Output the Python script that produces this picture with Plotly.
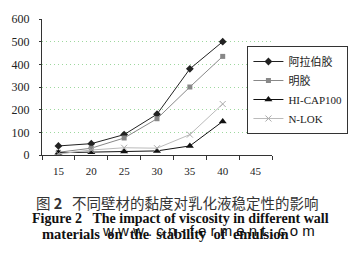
import plotly.graph_objects as go

categories = ["15", "20", "25", "30", "35", "40", "45"]
x_data = ["15", "20", "25", "30", "35", "40"]
arabic_gum = [40, 50, 90, 180, 380, 500]
gelatin = [12, 30, 75, 160, 300, 435]
hicap100 = [10, 12, 15, 18, 40, 148]
nlok = [5, 22, 32, 30, 90, 225]
y_ticks = [0, 100, 200, 300, 400, 500, 600]

serif = "Liberation Serif"

fig = go.Figure()
fig.add_trace(go.Scatter(x=x_data, y=arabic_gum, name="阿拉伯胶", mode="lines+markers",
                         line=dict(color="#222222", width=1),
                         marker=dict(symbol="diamond", size=6, color="#222222")))
fig.add_trace(go.Scatter(x=x_data, y=gelatin, name="明胶", mode="lines+markers",
                         line=dict(color="#888888", width=1),
                         marker=dict(symbol="square", size=5, color="#888888")))
fig.add_trace(go.Scatter(x=x_data, y=hicap100, name="HI-CAP100", mode="lines+markers",
                         line=dict(color="#111111", width=1),
                         marker=dict(symbol="triangle-up", size=7, color="#111111")))
fig.add_trace(go.Scatter(x=x_data, y=nlok, name="N-LOK", mode="lines+markers",
                         line=dict(color="#bbbbbb", width=1),
                         marker=dict(symbol="x-thin", size=6, color="#bbbbbb",
                                     line=dict(color="#aaaaaa", width=1))))

fig.update_layout(
    width=360, height=265,
    margin=dict(l=42, r=84, t=19, b=110),
    paper_bgcolor="white", plot_bgcolor="white",
    font=dict(family=serif, size=11, color="#222222"),
    showlegend=True,
    legend=dict(x=(251 - 42) / 234, y=(155 - 46) / 136, xanchor="left", yanchor="top",
                bordercolor="#333333", borderwidth=1, bgcolor="white",
                font=dict(family="Liberation Serif, Noto Sans CJK SC", size=11),
                tracegroupgap=0, itemwidth=30),
    xaxis=dict(type="category", categoryorder="array", categoryarray=categories,
               range=[-0.5, 6.5], tickson="boundaries", ticks="outside", ticklen=4,
               tickcolor="#333333", showline=True, linecolor="#333333", linewidth=1,
               showgrid=False, tickfont=dict(size=11), ticklabelstandoff=6),
    yaxis=dict(range=[0, 600], tickvals=y_ticks, ticks="outside", ticklen=2,
               tickcolor="#333333", showline=True, linecolor="#333333", linewidth=1,
               showgrid=True, gridcolor="#9ed89e", griddash="1px,3px", gridwidth=1,
               zeroline=False, tickfont=dict(size=12), ticklabelstandoff=7),
)

nb = "\u00a0"
cx = (180 - 42) / 234

def py(v):
    return (155 - v) / 136

common = dict(xref="paper", yref="paper", showarrow=False, xanchor="center", yanchor="middle")
fig.add_annotation(text="图" + nb + "<b>2</b>" + nb * 3 + "不同壁材的黏度对乳化液稳定性的影响",
                   x=cx, y=py(202),
                   font=dict(family="Noto Sans CJK SC", size=14.5, color="#333333"), **common)
fig.add_annotation(text="<b>Figure 2" + nb * 3 + "The impact of viscosity in different wall</b>",
                   x=(183 - 42) / 234, y=py(218),
                   font=dict(family=serif, size=14, color="#111111"), **common)
fig.add_annotation(text="<b>" + (nb * 2).join("materials on the stability of emulsion".split(" ")) + "</b>",
                   x=(168 - 42) / 234, y=py(234),
                   font=dict(family=serif, size=14.5, color="#111111"), **common)
fig.add_annotation(text=nb.join("www.cn-ferment.com"),
                   x=(211 - 42) / 234, y=py(230),
                   font=dict(family="Liberation Sans", size=15, color="#111111"), **common)

fig.write_html("out.html")
